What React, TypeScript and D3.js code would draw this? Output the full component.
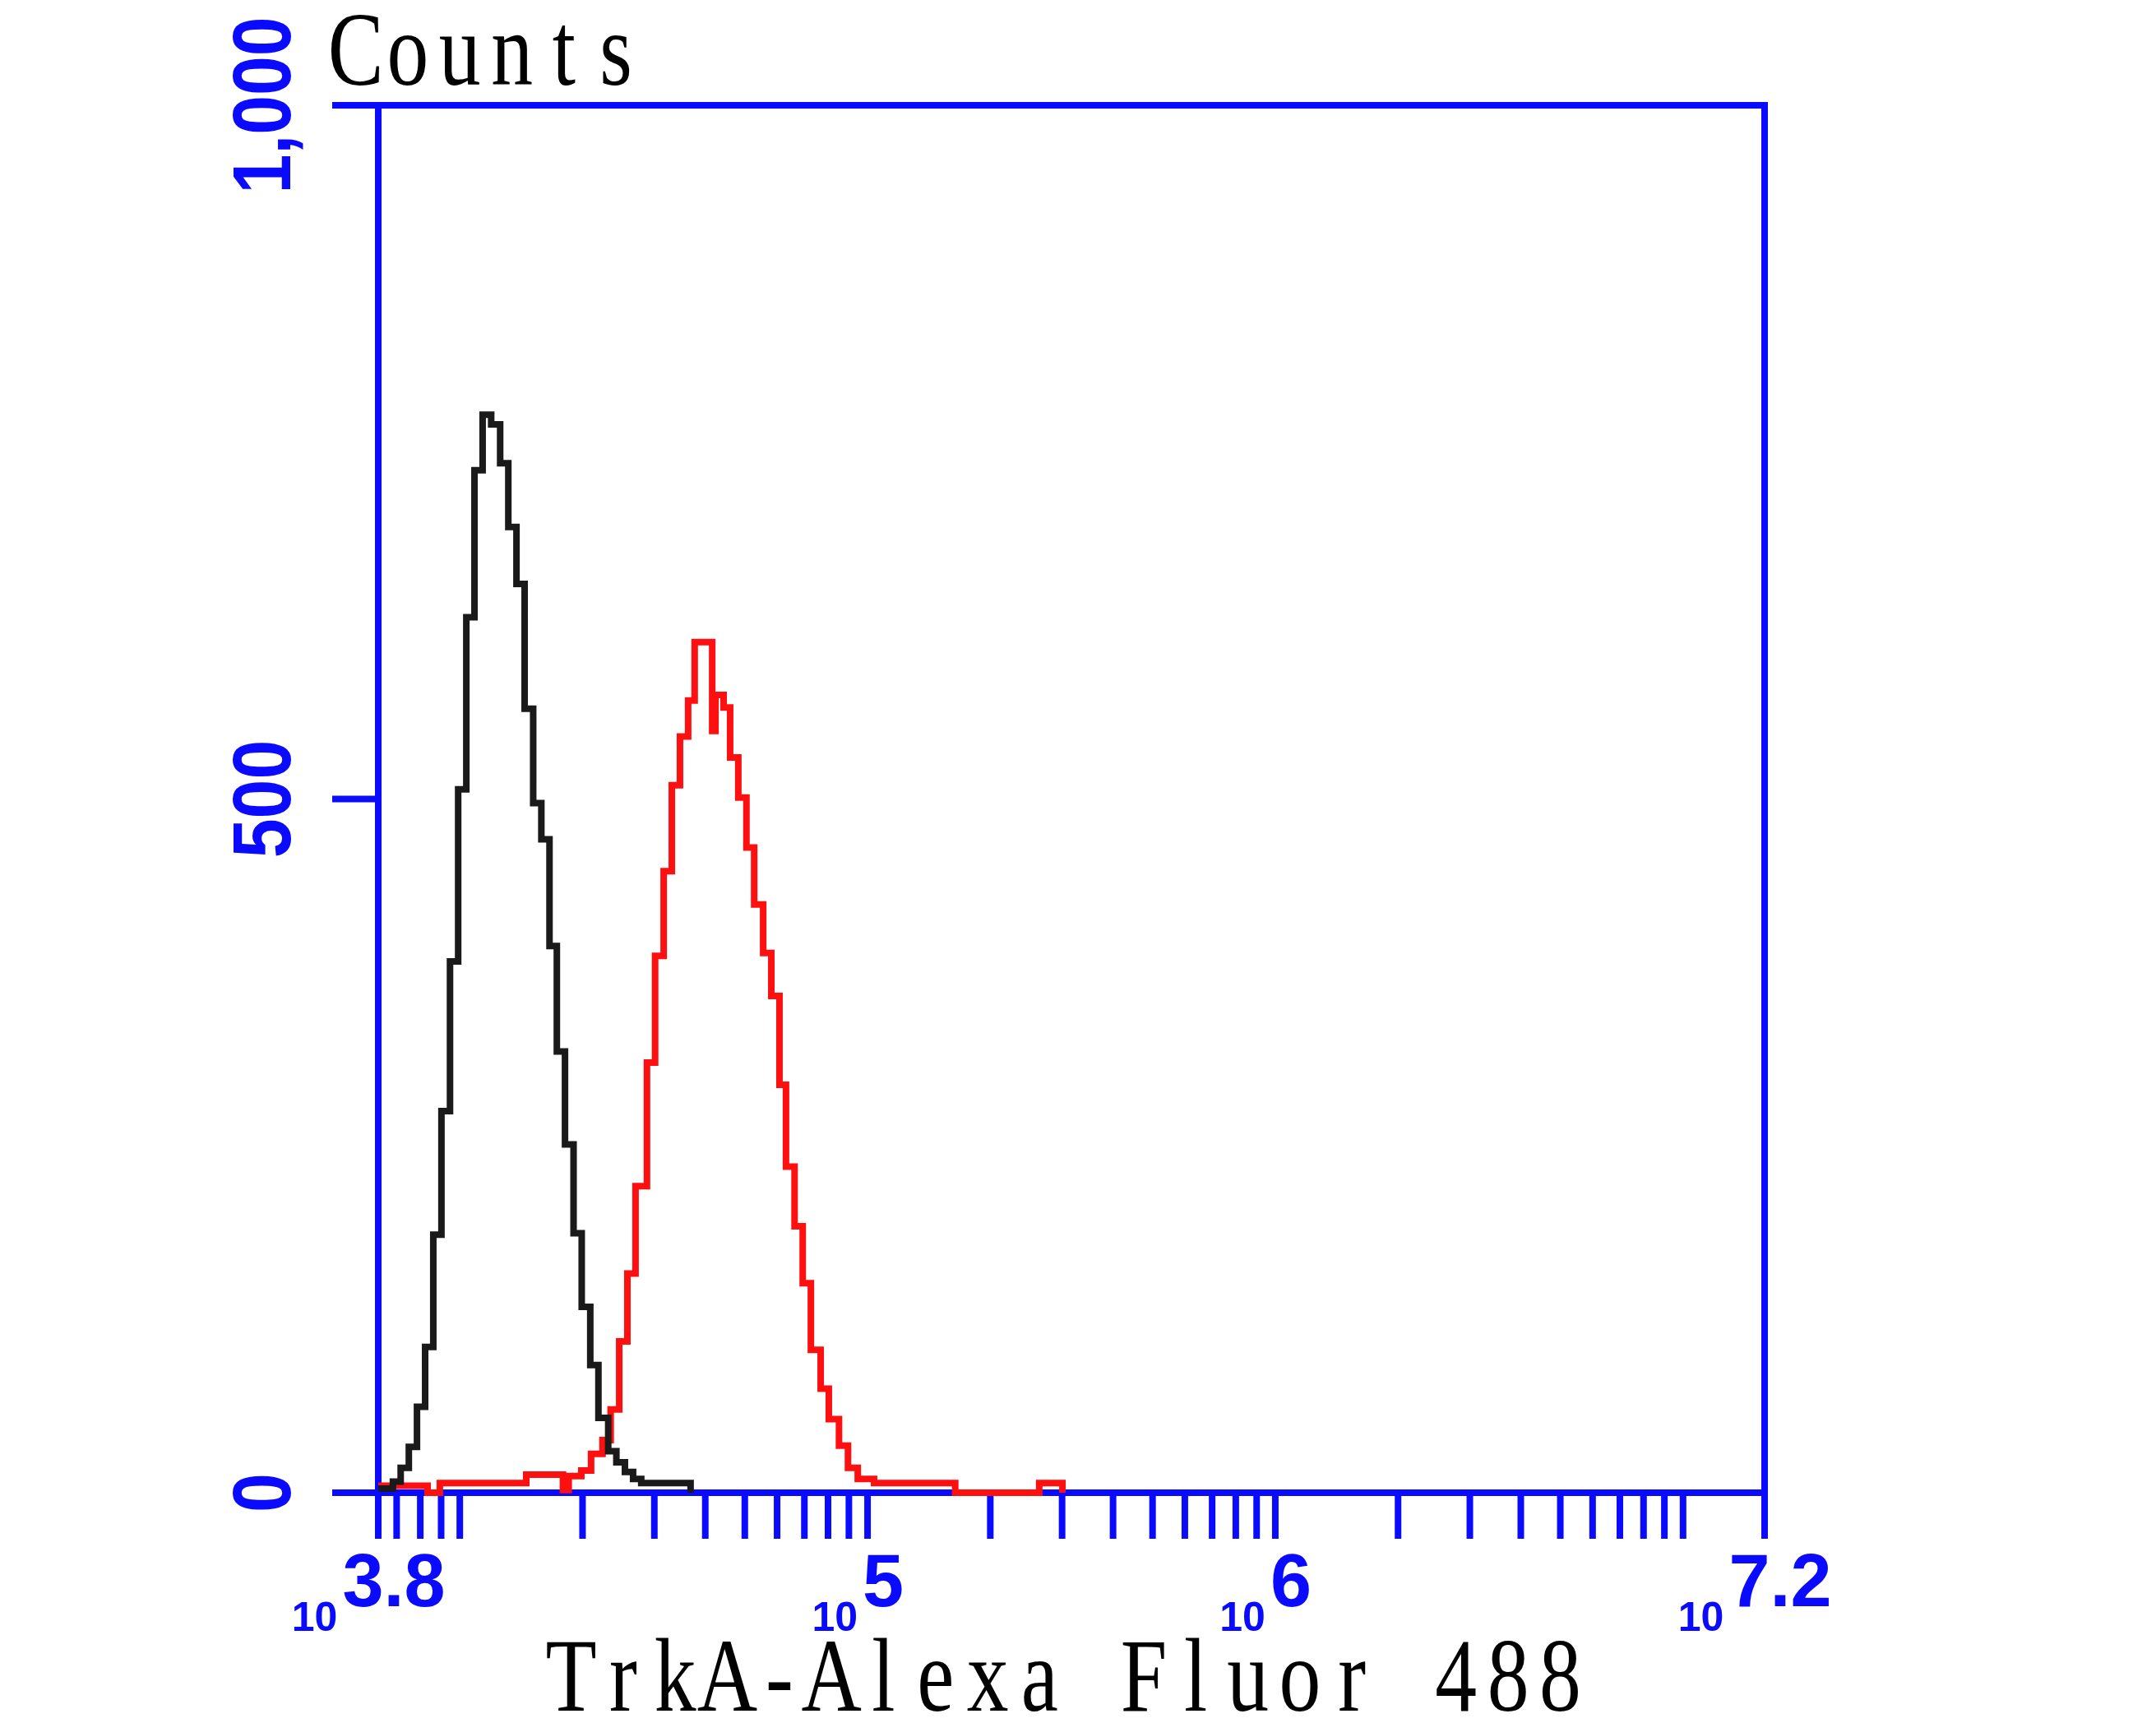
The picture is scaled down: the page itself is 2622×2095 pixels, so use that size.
import React, { useEffect, useRef } from "react";
import * as d3 from "d3";

const W = 2622;
const H = 2095;

// Axis domains and labels
const X_LOG_DOMAIN = [3.8, 7.2];
const Y_DOMAIN = [0, 1000];
const Y_TICKS = [0, 500, 1000];
const Y_TICK_LABELS = ["0", "500", "1,000"];
const X_LABEL_LOGS = [3.8, 5, 6, 7.2];
const X_LABEL_EXPS = ["3.8", "5", "6", "7.2"];
const Y_TITLE = "Counts";
const X_TITLE = "TrkA-Alexa Fluor 488";

// Control (black) histogram: bin start (log10 intensity) and counts
const BLACK_LOG = [
  3.8, 3.836, 3.855, 3.875, 3.895, 3.915, 3.935, 3.955, 3.976, 3.996, 4.016,
  4.036, 4.056, 4.077, 4.099, 4.119, 4.139, 4.159, 4.18, 4.2, 4.22, 4.238,
  4.258, 4.279, 4.299, 4.32, 4.34, 4.364, 4.384, 4.405, 4.425, 4.445, 4.566,
];
const BLACK_COUNT = [
  3, 8, 18, 33, 62, 105, 186, 275, 383, 507, 631, 737, 777, 770, 742, 696, 655,
  565, 497, 471, 394, 318, 251, 187, 134, 92, 54, 30, 22, 15, 10, 7, 0,
];

// TrkA (red) histogram
const RED_LOG = [
  3.8, 3.921, 3.951, 4.163, 4.253, 4.267, 4.298, 4.322, 4.35, 4.37, 4.391, 4.411,
  4.431, 4.459, 4.479, 4.5, 4.52, 4.54, 4.56, 4.576, 4.619, 4.627, 4.647,
  4.663, 4.683, 4.703, 4.722, 4.744, 4.764, 4.784, 4.8, 4.821, 4.841, 4.861,
  4.885, 4.905, 4.93, 4.952, 4.976, 5.016, 5.215, 5.421, 5.478,
];
const RED_COUNT = [
  5, 0, 7, 13, 2, 12, 16, 28, 38, 60, 109, 158, 221, 310, 387, 448, 510, 545,
  571, 613, 549, 575, 566, 530, 501, 465, 424, 389, 358, 294, 235, 192, 151,
  103, 75, 53, 34, 18, 10, 7, 0, 7, 0,
];

const BLUE = "#0a0aff";
const RED = "#ff1010";
const BLACK = "#1a1a1a";

export default function App() {
  const ref = useRef<SVGSVGElement | null>(null);

  useEffect(() => {
    document.body.style.margin = "0";
    const svg = d3.select(ref.current);
    svg.selectAll("*").remove();

    const left = 460, right = 2146, top = 128, bottom = 1815;
    const x = d3
      .scaleLog()
      .domain([10 ** X_LOG_DOMAIN[0], 10 ** X_LOG_DOMAIN[1]])
      .range([left, right]);
    const y = d3.scaleLinear().domain(Y_DOMAIN).range([bottom, top]);

    svg.append("rect").attr("width", W).attr("height", H).attr("fill", "#fff");

    const axisW = 8;
    const tickLen = 56;
    const g = svg.append("g").attr("stroke", BLUE).attr("stroke-width", axisW).attr("fill", "none");
    g.append("rect")
      .attr("x", left)
      .attr("y", top)
      .attr("width", right - left)
      .attr("height", bottom - top);

    g.selectAll("line.yt")
      .data(Y_TICKS)
      .join("line")
      .attr("x1", left - tickLen)
      .attr("x2", left)
      .attr("y1", (d) => y(d))
      .attr("y2", (d) => y(d));

    const lo = 10 ** X_LOG_DOMAIN[0], hi = 10 ** X_LOG_DOMAIN[1];
    const xt: number[] = [lo];
    for (let dec = 3; dec <= 7; dec++) {
      for (let m = 1; m <= 9; m++) {
        const v = m * 10 ** dec;
        if (v > lo * 1.0001 && v < hi * 0.9999) xt.push(v);
      }
    }
    xt.push(hi);
    g.selectAll("line.xt")
      .data(xt)
      .join("line")
      .attr("x1", (d) => x(d))
      .attr("x2", (d) => x(d))
      .attr("y1", bottom)
      .attr("y2", bottom + tickLen);

    const line = d3
      .line<[number, number]>()
      .x((d) => x(10 ** d[0]))
      .y((d) => y(d[1]))
      .curve(d3.curveStepAfter);

    const mk = (logs: number[], counts: number[]) =>
      logs.map((l, i) => [l, counts[i]] as [number, number]);

    svg.append("path")
      .attr("d", line(mk(RED_LOG, RED_COUNT)))
      .attr("fill", "none")
      .attr("stroke", RED)
      .attr("stroke-width", 8);
    svg.append("path")
      .attr("d", line(mk(BLACK_LOG, BLACK_COUNT)))
      .attr("fill", "none")
      .attr("stroke", BLACK)
      .attr("stroke-width", 8);

    // y tick labels (rotated)
    Y_TICKS.forEach((t, i) => {
      svg.append("text")
        .attr("transform", `translate(353,${y(t)}) rotate(-90) scale(0.86,1)`)
        .attr("text-anchor", "middle")
        .attr("font-family", "Liberation Sans, Arial, sans-serif")
        .attr("font-weight", "bold")
        .attr("font-size", 100)
        .attr("fill", BLUE)
        .text(Y_TICK_LABELS[i]);
    });

    // x tick labels: small "10" + big exponent
    X_LABEL_LOGS.forEach((l, i) => {
      const cx = x(10 ** l) + 19;
      const exp = svg.append("text")
        .attr("x", cx)
        .attr("y", 1953)
        .attr("text-anchor", "middle")
        .attr("font-family", "Liberation Sans, Arial, sans-serif")
        .attr("font-weight", "bold")
        .attr("font-size", 90)
        .attr("fill", BLUE)
        .text(X_LABEL_EXPS[i]);
      const w = (exp.node() as SVGTextElement).getComputedTextLength();
      svg.append("text")
        .attr("x", cx - w / 2 - 6)
        .attr("y", 1983)
        .attr("text-anchor", "end")
        .attr("font-family", "Liberation Sans, Arial, sans-serif")
        .attr("font-weight", "bold")
        .attr("font-size", 50)
        .attr("fill", BLUE)
        .text("10");
    });

    // titles: monospaced serif look (per-glyph cells)
    const serif = "Liberation Serif, Times New Roman, serif";
    const fs = 127;
    const sx = 0.8;
    const monoText = (str: string, x0: number, yb: number, adv: number) => {
      const probe = svg.append("text")
        .attr("font-family", serif)
        .attr("font-size", fs)
        .attr("visibility", "hidden");
      const widths = Array.from(str).map((ch) => {
        probe.text(ch === " " ? "n" : ch);
        return (probe.node() as SVGTextElement).getComputedTextLength();
      });
      probe.remove();
      const xs = widths.map((w, i) => ((i * adv + (adv - w * sx) / 2) / sx).toFixed(2));
      svg.append("text")
        .attr("transform", `translate(${x0},${yb}) scale(${sx},1)`)
        .attr("x", xs.join(" "))
        .attr("y", 0)
        .attr("font-family", serif)
        .attr("font-size", fs)
        .attr("fill", "#000")
        .attr("xml:space", "preserve")
        .style("white-space", "pre")
        .text(str);
    };
    monoText(Y_TITLE, 401, 103, 63.3);
    monoText(X_TITLE, 663, 2080, 63.3);
  }, []);

  return (
    <div style={{ position: "absolute", left: 0, top: 0 }}>
      <svg ref={ref} width={W} height={H} style={{ display: "block" }} />
    </div>
  );
}
